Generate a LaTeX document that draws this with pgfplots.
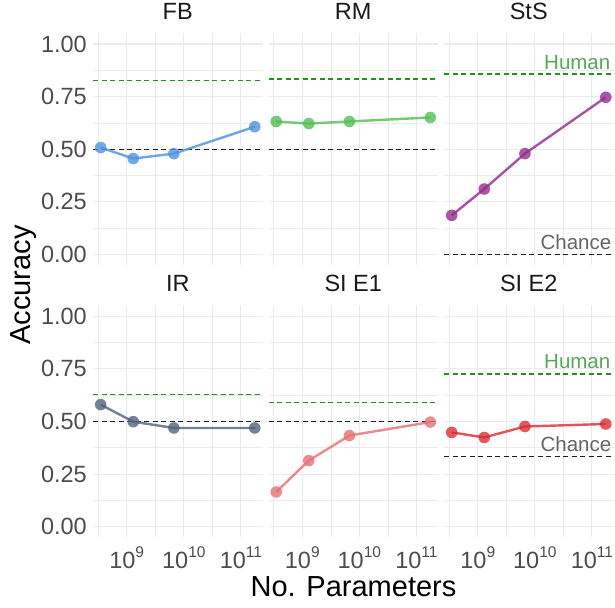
\documentclass[border=0pt]{standalone}
\usepackage{fontspec}
\setmainfont{Liberation Sans}
\usepackage{pgfplots}
\pgfplotsset{compat=1.18}

\definecolor{gridgray}{RGB}{235,235,235}
\definecolor{tickgray}{RGB}{77,77,77}
\definecolor{stripcol}{RGB}{26,26,26}
\definecolor{humanline}{RGB}{34,145,34}
\definecolor{humantext}{RGB}{85,170,85}
\definecolor{chanceline}{RGB}{30,30,30}
\definecolor{chancetext}{RGB}{100,100,100}
\definecolor{fbcol}{RGB}{74,144,226}
\definecolor{rmcol}{RGB}{80,190,80}
\definecolor{stscol}{RGB}{148,40,140}
\definecolor{ircol}{RGB}{80,96,122}
\definecolor{sieonecol}{RGB}{230,110,115}
\definecolor{sietwocol}{RGB}{220,40,45}

\newcommand\tenpow[1]{10\raisebox{11pt}{\fontsize{15.5}{16}\selectfont #1}}

\pgfplotsset{
  panel/.style={
    scale only axis, width=169.5pt, height=231.5pt,
    xmin=8.409, xmax=11.378, ymin=-0.05, ymax=1.05,
    xtick={9,10,11}, minor xtick={8.5,9.5,10.5},
    ytick={0,0.25,0.5,0.75,1}, minor ytick={0.125,0.375,0.625,0.875},
    grid=both,
    major grid style={draw=gridgray, line width=1.1pt},
    minor grid style={draw=gridgray, line width=0.55pt},
    axis line style={draw=none}, tick style={draw=none},
    xticklabels={}, yticklabels={},
    title style={font=\fontsize{23.5}{24}\selectfont, text=stripcol,
      at={(0.5,1)}, anchor=base, yshift=8pt, inner sep=0pt},
    clip mode=individual,
  },
  leftcol/.style={
    yticklabels={0.00,0.25,0.50,0.75,1.00},
    yticklabel style={font=\fontsize{23.5}{24}\selectfont, text=tickgray,
      inner sep=0pt, xshift=-6pt},
  },
  bottomrow/.style={
    xticklabels={\tenpow{9},\tenpow{10},\tenpow{11}},
    xticklabel style={font=\fontsize{23.5}{24}\selectfont, text=tickgray,
      anchor=base, inner sep=0pt, yshift=-31pt},
  },
  chance/.style={draw=chanceline, line width=1.3pt, dash pattern=on 5pt off 3.5pt},
  human/.style={draw=humanline, line width=1.3pt, dash pattern=on 5pt off 3.5pt},
  series/.style={draw=#1, line width=2.4pt, draw opacity=0.8, mark=*, mark size=5.8pt,
    mark options={solid, fill=#1, draw=#1, draw opacity=0, fill opacity=0.78}},
}

\begin{document}
\begin{tikzpicture}
\useasboundingbox (0,0) rectangle (615pt,-607pt);

% ---- row 1 ----
\begin{axis}[panel, leftcol, title={FB}, at={(93pt,-33.5pt)}, anchor=north west]
  \addplot[human] coordinates {(8.409,0.826) (11.378,0.826)};
  \addplot[chance] coordinates {(8.409,0.5) (11.378,0.5)};
  \addplot[series=fbcol] coordinates {
    (8.544,0.508) (9.114,0.456) (9.826,0.479) (11.243,0.607)};
\end{axis}

\begin{axis}[panel, title={RM}, at={(268.5pt,-33.5pt)}, anchor=north west]
  \addplot[human] coordinates {(8.409,0.834) (11.378,0.834)};
  \addplot[chance] coordinates {(8.409,0.5) (11.378,0.5)};
  \addplot[series=rmcol] coordinates {
    (8.544,0.632) (9.114,0.622) (9.826,0.632) (11.243,0.651)};
\end{axis}

\begin{axis}[panel, title={StS}, at={(444pt,-33.5pt)}, anchor=north west]
  \addplot[human] coordinates {(8.409,0.858) (11.378,0.858)};
  \addplot[chance] coordinates {(8.409,0) (11.378,0)};
  \addplot[series=stscol] coordinates {
    (8.544,0.186) (9.114,0.311) (9.826,0.479) (11.243,0.747)};
  \node[anchor=base east, inner sep=0pt, text=humantext,
        font=\fontsize{20.5}{21}\selectfont, xshift=-3pt, yshift=4pt]
        at (axis cs:11.378,0.858) {Human};
  \node[anchor=base east, inner sep=0pt, text=chancetext,
        font=\fontsize{20.5}{21}\selectfont, xshift=-2pt, yshift=4.5pt]
        at (axis cs:11.378,0) {Chance};
\end{axis}

% ---- row 2 ----
\begin{axis}[panel, leftcol, bottomrow, title={IR}, at={(93pt,-305.7pt)}, anchor=north west]
  \addplot[human] coordinates {(8.409,0.629) (11.378,0.629)};
  \addplot[chance] coordinates {(8.409,0.5) (11.378,0.5)};
  \addplot[series=ircol] coordinates {
    (8.544,0.580) (9.114,0.499) (9.826,0.469) (11.243,0.469)};
\end{axis}

\begin{axis}[panel, bottomrow, title={SI E1}, at={(268.5pt,-305.7pt)}, anchor=north west]
  \addplot[human] coordinates {(8.409,0.590) (11.378,0.590)};
  \addplot[chance] coordinates {(8.409,0.5) (11.378,0.5)};
  \addplot[series=sieonecol] coordinates {
    (8.544,0.165) (9.114,0.314) (9.826,0.433) (11.243,0.497)};
\end{axis}

\begin{axis}[panel, bottomrow, title={SI E2}, at={(444pt,-305.7pt)}, anchor=north west]
  \addplot[human] coordinates {(8.409,0.726) (11.378,0.726)};
  \addplot[chance] coordinates {(8.409,0.333) (11.378,0.333)};
  \addplot[series=sietwocol] coordinates {
    (8.544,0.448) (9.114,0.424) (9.826,0.476) (11.243,0.488)};
  \node[anchor=base east, inner sep=0pt, text=humantext,
        font=\fontsize{20.5}{21}\selectfont, xshift=-3pt, yshift=5pt]
        at (axis cs:11.378,0.726) {Human};
  \node[anchor=base east, inner sep=0pt, text=chancetext,
        font=\fontsize{20.5}{21}\selectfont, xshift=-2pt, yshift=5pt]
        at (axis cs:11.378,0.333) {Chance};
\end{axis}

% ---- shared axis titles ----
\node[rotate=90, anchor=base, inner sep=0pt, font=\fontsize{29}{30}\selectfont]
  at (30pt,-285pt) {Accuracy};
\node[anchor=base, inner sep=0pt, font=\fontsize{29}{30}\selectfont]
  at (353.5pt,-596.7pt) {No. Parameters};
\end{tikzpicture}
\end{document}
